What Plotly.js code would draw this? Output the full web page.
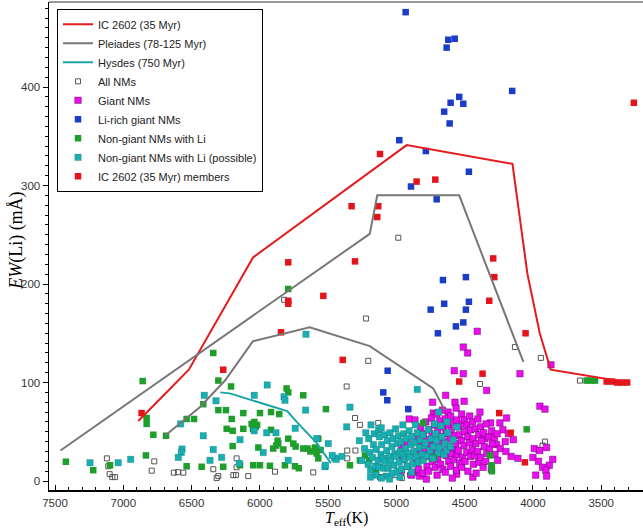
<!DOCTYPE html>
<html>
<head>
<meta charset="utf-8">
<script src="https://cdn.plot.ly/plotly-3.0.1.min.js"></script>
<style>html,body{margin:0;padding:0;overflow:hidden;background:#fff}</style>
</head>
<body>
<div id="chart" style="width:643px;height:529px"></div>
<script>
// Li equivalent width vs effective temperature. Points are [Teff (K), EW(Li) (mÅ)].

// Cluster reference sequences
const ic2602Line = [[6890,61],[6520,113],[6050,227],[4925,341],[4150,322],[4040,210],[3950,150],[3870,113],[3300,100]];
const pleiadesUpper = [[7460,31],[5195,251],[5140,290],[4540,290],[4070,121]];
const pleiadesLower = [[6695,46],[6440,75],[6255,102],[6050,142],[5635,156],[5195,137],[4730,94],[4645,72]];
const hyadesLine = [[6290,90],[6220,89],[5800,71],[5730,60],[5580,38],[5480,18]];

// All NMs (open squares)
const allNMs = [[6773,20],[7110,15],[7100,7],[7080,4],[7060,4],[7120,23],[6630,8.5],[6600,9],[6560,8.5],
  [6341,12],[6304,5],[6316,3],[6170,23],[6170,14],[6175,6],[6085,5],[6194,6],[5889,9.5],[5609,8.8],
  [6792,10.5],[5206,122],[5364,96],[5303,64],[5267,57],[5133,59],[4388,98.5],[5360,31],[5300,31],
  [5360,23],[4900,6],[5010,6],[3912,40],[3961,31.5],[3930,36],[3900,14],[4986,247],[5223,165],
  [4132,136],[3942,125],[3656,102],[5822,184],[5120,4],[4960,3]];

// Giant NMs
const giantNMs = [[4478,130],[4576,112],[4510,109],[4095,109],[4339,92],[4639,87],[4735,80],[4571,80],
  [4504,81],[4730,69],[3949,76],[3912,73],[4906,63],[4864,62],[4388,70],[4310,59],[4242,59],[4193,64],
  [4220,52],[4180,48],[4144,42],[4352,43],[4266,37],[4240,33],[4160,25],[4110,23],[3990,33],[3950,31],
  [3900,34],[4000,24],[3960,20],[3930,14],[3880,16],[3855,22],[3905,11],[3980,6],[3900,5],[4408,152],
  [4510,136],[3868,118],[4559,7],[4590,3],[4440,4],[4780,2],[4830,5],[4872,9],
  [4852,45],[4846,30],[4855,18],[4838,12],[4822,55],[4818,38],[4826,22],[4803,48],[4797,28],[4808,8],
  [4784,60],[4779,42],[4786,33],[4776,15],[4762,52],[4758,25],[4765,10],[4743,64],[4738,47],[4745,36],
  [4736,20],[4722,57],[4718,40],[4725,29],[4716,14],[4703,68],[4698,50],[4705,33],[4697,22],[4702,6],
  [4682,61],[4678,45],[4686,38],[4677,17],[4663,72],[4657,55],[4664,30],[4659,12],[4642,63],[4638,48],
  [4645,40],[4636,26],[4641,9],[4622,70],[4617,57],[4625,35],[4618,20],[4603,66],[4598,51],[4606,43],
  [4597,28],[4602,15],[4583,59],[4578,46],[4585,34],[4577,22],[4563,74],[4558,62],[4565,38],[4556,27],
  [4561,11],[4543,55],[4538,47],[4546,31],[4537,18],[4522,68],[4518,58],[4525,41],[4516,24],[4521,14],
  [4503,62],[4498,50],[4505,36],[4497,20],[4483,57],[4478,45],[4485,29],[4476,10],[4463,66],[4457,52],
  [4465,39],[4456,25],[4443,60],[4438,43],[4445,32],[4436,17],[4423,53],[4418,38],[4425,26],[4416,8],
  [4403,63],[4397,47],[4405,30],[4396,19],[4383,55],[4378,41],[4385,24],[4362,49],[4357,35],[4365,14],
  [4343,58],[4338,28],[4345,20],[4322,45],[4318,33],[4303,51],[4298,38],[4305,12],[4282,44],[4278,27],
  [4262,48],[4258,21],[4203,40],[4198,30],[4962,35],[4958,22],[4965,10],[4922,40],[4918,15],[4892,28],[4888,6]];

// Li-rich giant NMs
const liRichGiants = [[4932,476],[4620,448],[4573,449],[4632,440],[4152,396],[4540,390],[4603,384],[4510,383],
  [4650,375],[4610,363],[4979,346],[4784,335],[4469,314],[4893,299],[4705,286],[4659,204],[4491,207],
  [4650,180],[4749,174],[4469,182],[4491,174],[4510,161],[4564,157],[4696,150],[5064,112],[5096,90],
  [5067,82],[4913,73]];

// Non-giant NMs with Li
const nonGiantLi = [[6341,130],[6858,101.5],[6304,102],[6211,96],[5804,94],[5792,90],[5682,87],[6829,64],
  [6829,58],[6780,47],[6687,46],[6536,63],[6482,63],[6414,78],[6304,72],[6248,72],[6206,63],[6121,69],
  [6060,58],[6040,60],[6030,55],[6050,53],[6020,57],[5999,69],[5918,70],[5858,68],[6243,53],[6199,51],
  [6121,53],[5918,52],[5870,41],[5865,38],[5880,36],[5792,43],[5755,38],[5738,35],[5682,33],[5596,34],
  [5555,31.5],[5516,73],[6199,35.5],[6011,34],[5902,33],[5828,32],[5584,28],[5572,23],[5999,16],
  [5926,15.5],[5816,16],[5743,15],[5715,13],[6268,14.5],[6426,14.5],[6536,15],[6834,26],[7097,16],
  [7220,11],[7420,19.6],[6145,16],[6048,16],[5792,195],[5572,43],[5596,31.5],[5650,33],[5630,30],
  [5340,16],[5267,21],[5230,26],[5200,21],[4803,59],[4718,25],[4315,26],[4302,16],[4046,52.5],
  [4300,10],[3607,102],[3575,102],[3545,102],[4740,23],[5150,12]];

// Non-giant NMs with Li (possible)
const nonGiantLiPossible = [[6407,87],[6321,81.5],[6041,87],[5946,97.5],[5823,85.6],[5816,82],[5665,72],
  [6580,58],[6414,46],[6145,42],[6041,51],[5950,49],[5882,49],[5741,53.5],[5584,43],[6570,32.5],
  [6575,29],[6597,24],[6341,32],[6280,24],[6365,21],[5975,29],[5792,21],[6151,18],[5523,14.5],
  [5452,23.4],[5440,22],[6946,22],[7037,18.6],[7244,18.6],[5662,149],[5340,75],[5364,55],[5499,38],
  [5520,16],[5470,26],[5400,25],[4847,93],[4690,70],[4630,60],[4557,55],[4720,58],
  [5203,43],[5196,29],[5207,17],[5186,57],[5176,24],[5189,11],[5168,37],[5154,15],[5163,48],[5147,32],
  [5134,21],[5149,6],[5131,52],[5124,45],[5113,27],[5127,14],[5108,37],[5093,13],[5111,54],[5099,23],
  [5087,47],[5071,31],[5083,20],[5074,5],[5066,41],[5052,25],[5061,13],[5047,49],[5033,35],[5041,20],
  [5029,8],[5024,43],[5011,28],[5019,16],[5006,53],[4993,38],[5001,25],[4989,10],[4984,46],[4971,30],
  [4979,19],[4967,40],[4951,27],[4961,12],[4953,57],[4946,48],[4933,33],[4941,22],[4927,43],[4913,28],
  [4921,15],[4907,51],[4893,37],[4901,24],[4889,9],[4886,45],[4871,30],[4880,17],[4867,39],[4853,25],
  [4861,57],[4847,49],[4833,34],[4841,19],[4826,42],[4811,27],[4806,47],[4793,36],[4801,21],[4787,39],
  [4772,26],[4766,52],[4753,31],[4745,43],[4733,23],[4727,35],[4713,48],[4706,41],[4694,29],[4686,34],
  [4674,56],[4666,45],[4652,27],[4646,38],[4633,31],[4624,49],[4604,35],[4584,42],[5233,33],[5254,21],
  [5271,41],[5224,49],[5190,4],[5110,3],[5050,2],[4975,4]];

// IC 2602 (35 Myr) members
const ic2602Members = [[3261,384],[5120,332],[4852,304],[4715,306],[5328,279],[5133,279],[5140,268],
  [5792,222],[5303,223],[4291,226],[4283,207],[4320,183],[5535,188],[5792,183],[5792,180],[4054,150],
  [5845,151],[5393,123],[4369,109],[6268,113],[6866,69],[4540,101],[4247,69],[4163,49],[4059,19],
  [3460,101],[3420,101],[3385,100],[3350,100],[3310,100]];

const xs = a => a.map(p => p[0]);
const ys = a => a.map(p => p[1]);
const joined = (a, b) => a.concat([[null, null]], b);

function markerTrace(pts, name, rank, marker) {
  return {x: xs(pts), y: ys(pts), name: name, type: 'scatter', mode: 'markers',
          legendrank: rank, marker: marker, hoverinfo: 'skip'};
}
function lineTrace(pts, name, rank, color) {
  return {x: xs(pts), y: ys(pts), name: name, type: 'scatter', mode: 'lines',
          legendrank: rank, connectgaps: false, line: {color: color, width: 2}, hoverinfo: 'skip'};
}

const sq = 6.5;
const traces = [
  markerTrace(allNMs, 'All NMs', 4, {symbol: 'square-open', size: 5, color: '#555', line: {width: 1, color: '#555'}}),
  markerTrace(giantNMs, 'Giant NMs', 5, {symbol: 'square', size: sq, color: '#f00cf0', line: {width: 0.7, color: 'rgba(70,0,90,0.6)'}}),
  markerTrace(liRichGiants, 'Li-rich giant NMs', 6, {symbol: 'square', size: sq, color: '#1b3cc8', line: {width: 0}}),
  markerTrace(nonGiantLi, 'Non-giant NMs with Li', 7, {symbol: 'square', size: sq, color: '#1e9e2a', line: {width: 0}}),
  markerTrace(nonGiantLiPossible, 'Non-giant NMs with Li (possible)', 8, {symbol: 'square', size: sq, color: '#19aeb0', line: {width: 0.4, color: 'rgba(0,80,90,0.5)'}}),
  markerTrace(ic2602Members, 'IC 2602 (35 Myr) members', 9, {symbol: 'square', size: sq, color: '#e3141c', line: {width: 0}}),
  lineTrace(ic2602Line, 'IC 2602 (35 Myr)', 1, '#e41a1c'),
  lineTrace(joined(pleiadesUpper, pleiadesLower), 'Pleiades (78-125 Myr)', 2, '#777777'),
  lineTrace(hyadesLine, 'Hysdes (750 Myr)', 3, '#1aa5a5')
];

const tickFont = {family: 'Liberation Sans, Arial, sans-serif', size: 11.5, color: '#333'};
const layout = {
  width: 643, height: 529,
  margin: {l: 49, r: 0, t: 2, b: 39},
  paper_bgcolor: '#fff', plot_bgcolor: '#fff',
  showlegend: true,
  legend: {
    x: 0.0135, y: 0.986, xanchor: 'left', yanchor: 'top',
    bgcolor: '#fff', bordercolor: '#000', borderwidth: 1,
    itemwidth: 30, traceorder: 'normal',
    font: {family: 'Liberation Sans, Arial, sans-serif', size: 11, color: '#222'}
  },
  xaxis: {
    range: [7544, 3194], tick0: 0, dtick: 500, ticks: 'inside', ticklen: 5, tickcolor: '#000',
    ticklabelstandoff: 2,
    showline: true, linecolor: '#000', linewidth: 1.5, showgrid: false, zeroline: false,
    minor: {dtick: 100, ticks: 'inside', ticklen: 3, tickcolor: '#000', showgrid: false},
    tickfont: tickFont
  },
  yaxis: {
    range: [-9.1, 486.3], tick0: 0, dtick: 100, ticks: 'outside', ticklen: 5, tickcolor: '#000',
    showline: true, linecolor: '#000', linewidth: 1.5, showgrid: false, zeroline: false,
    minor: {dtick: 10, ticks: 'outside', ticklen: 3, tickcolor: '#000', showgrid: false},
    tickfont: tickFont
  },
  shapes: [{type: 'line', xref: 'paper', yref: 'paper', x0: 0, x1: 1, y0: 1, y1: 1,
            line: {color: '#999', width: 2}}],
  annotations: [
    {xref: 'paper', yref: 'paper', x: 0.5, y: -0.058, xanchor: 'center', yanchor: 'middle', showarrow: false,
     text: '<i>T</i><sub>eff</sub>(K)', font: {family: 'Liberation Serif, Times New Roman, serif', size: 16, color: '#000'}},
    {xref: 'paper', yref: 'paper', x: -0.056, y: 0.51, xanchor: 'center', yanchor: 'middle', showarrow: false,
     textangle: -90, text: '<i>EW</i>(Li) (mÅ)', font: {family: 'Liberation Serif, Times New Roman, serif', size: 18, color: '#000'}}
  ]
};

Plotly.newPlot('chart', traces, layout, {displayModeBar: false, staticPlot: true});
</script>
</body>
</html>
